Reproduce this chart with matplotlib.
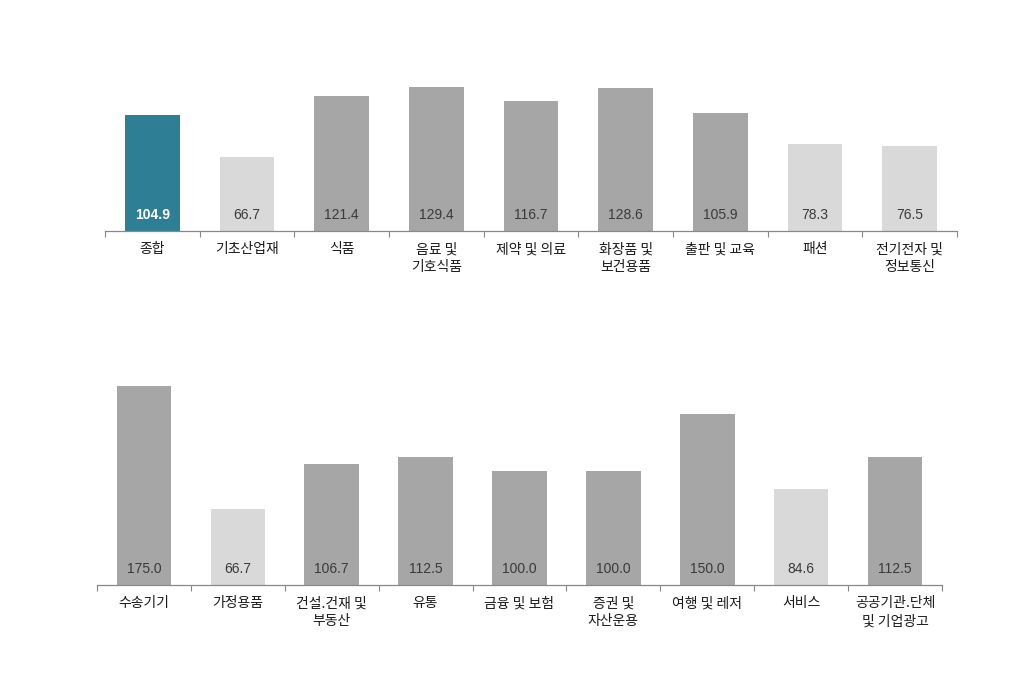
import matplotlib
matplotlib.use('Agg')
import matplotlib.pyplot as plt
import numpy as np

plt.rcParams['font.family'] = ['Noto Sans CJK KR', 'DejaVu Sans']

# 데이터
top_cats = ['종합', '기초산업재', '식품', '음료 및\n기호식품', '제약 및 의료',
            '화장품 및\n보건용품', '출판 및 교육', '패션', '전기전자 및\n정보통신']
top_vals = [104.9, 66.7, 121.4, 129.4, 116.7, 128.6, 105.9, 78.3, 76.5]

bottom_cats = ['수송기기', '가정용품', '건설.건재 및\n부동산', '유통', '금융 및 보험',
               '증권 및\n자산운용', '여행 및 레저', '서비스', '공공기관.단체\n및 기업광고']
bottom_vals = [175.0, 66.7, 106.7, 112.5, 100.0, 100.0, 150.0, 84.6, 112.5]

TEAL = '#2E7F96'
DARK = '#A6A6A6'
LIGHT = '#D9D9D9'


def draw(ax, cats, vals, first_teal):
    x = np.arange(len(cats))
    colors = []
    for i, v in enumerate(vals):
        if first_teal and i == 0:
            colors.append(TEAL)
        elif v < 100:
            colors.append(LIGHT)
        else:
            colors.append(DARK)
    ax.bar(x, vals, width=0.58, color=colors)
    for i, v in enumerate(vals):
        if colors[i] == TEAL:
            ax.annotate(f'{v:.1f}', (x[i], 0), xytext=(0, 11.5), textcoords='offset points',
                        ha='center', va='center', fontsize=10, color='white',
                        fontweight='bold', family=['Liberation Sans', 'DejaVu Sans'])
        else:
            ax.annotate(f'{v:.1f}', (x[i], 0), xytext=(0, 11.5), textcoords='offset points',
                        ha='center', va='center', fontsize=10, color='#3a3a3a',
                        family=['Liberation Sans', 'DejaVu Sans'])
    ax.set_xlim(-0.5, len(cats) - 0.5)
    ax.set_xticks(x)
    ax.set_xticklabels(cats, fontsize=10, color='#1a1a1a', linespacing=1.38, va='top')
    ax.tick_params(axis='x', which='major', length=0, pad=8)
    ax.set_xticks(np.arange(-0.5, len(cats)), minor=True)
    ax.tick_params(axis='x', which='minor', length=4, color='#888888', width=0.8)
    ax.set_yticks([])
    for s in ['top', 'left', 'right']:
        ax.spines[s].set_visible(False)
    ax.spines['bottom'].set_color('#888888')
    ax.spines['bottom'].set_linewidth(0.9)


fig = plt.figure(figsize=(10.24, 6.74), dpi=100)

ax1 = fig.add_axes([105 / 1024, 1 - 231 / 674, 852 / 1024, 166.5 / 674])
ax1.set_ylim(0, 150)
draw(ax1, top_cats, top_vals, True)

ax2 = fig.add_axes([97 / 1024, 1 - 585 / 674, 845 / 1024, 216 / 674])
ax2.set_ylim(0, 190)
draw(ax2, bottom_cats, bottom_vals, False)

fig.savefig('out.png', dpi=100)
